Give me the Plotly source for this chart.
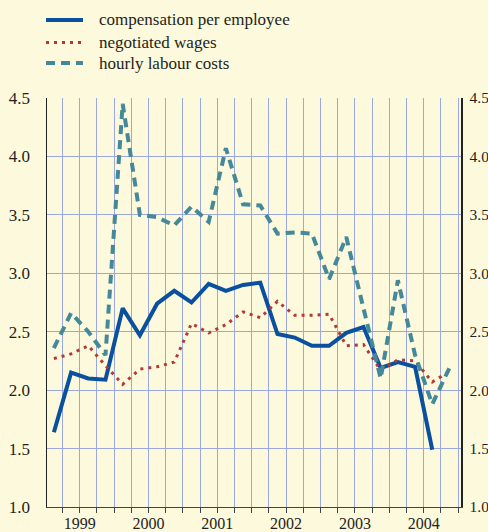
import plotly.graph_objects as go

# quarters 1999Q1 .. 2004Q4 (x = quarter index, point at mid-quarter)
quarters = ["1999Q1","1999Q2","1999Q3","1999Q4","2000Q1","2000Q2","2000Q3","2000Q4",
            "2001Q1","2001Q2","2001Q3","2001Q4","2002Q1","2002Q2","2002Q3","2002Q4",
            "2003Q1","2003Q2","2003Q3","2003Q4","2004Q1","2004Q2","2004Q3","2004Q4"]
compensation = [1.64, 2.15, 2.10, 2.09, 2.70, 2.47, 2.74, 2.85, 2.75, 2.91, 2.85, 2.90,
                2.92, 2.48, 2.45, 2.38, 2.38, 2.49, 2.54, 2.19, 2.24, 2.20, 1.49]
negotiated = [2.27, 2.31, 2.38, 2.21, 2.05, 2.18, 2.20, 2.24, 2.57, 2.49, 2.56, 2.67,
              2.62, 2.76, 2.64, 2.64, 2.65, 2.38, 2.39, 2.17, 2.26, 2.25, 2.07, 2.16]
hourly = [2.36, 2.66, 2.50, 2.30, 4.45, 3.50, 3.48, 3.41, 3.57, 3.44, 4.07, 3.59,
          3.58, 3.34, 3.35, 3.34, 2.95, 3.31, 2.70, 2.10, 2.94, 2.30, 1.88, 2.19]
year_labels = ["1999", "2000", "2001", "2002", "2003", "2004"]
year_centers = [2, 6, 10, 14, 18, 22]
series_names = ["compensation per employee", "negotiated wages", "hourly labour costs"]

xpos = [i + 0.5 for i in range(len(quarters))]

BG = "#fcf9dc"
GRID = "#9ba8de"
FONT = "Liberation Serif"
COLORS = ["#0a509f", "#b23a36", "#45889a"]
WIDTHS = [4, 3, 4]
DASHES = ["solid", "3px,5px", "9px,6px"]

W, H = 488, 532
L, R, T, B = 47, 27, 98, 25

fig = go.Figure()
series = [compensation, negotiated, hourly]
for name, ys, c, w, d in zip(series_names, series, COLORS, WIDTHS, DASHES):
    fig.add_trace(go.Scatter(x=xpos[:len(ys)], y=ys, mode="lines", name=name,
                             showlegend=False,
                             line=dict(color=c, width=w, dash=d)))

fig.add_trace(go.Scatter(x=[xpos[0]], y=[hourly[0]], yaxis="y2", mode="lines",
                         showlegend=False, hoverinfo="skip",
                         line=dict(color="rgba(0,0,0,0)")))

# legend drawn as key lines + text above the plot
pw, ph = W - L - R, H - T - B
def px2x(px):
    return (px - L) / pw
def py2y(py):
    return (H - B - py) / ph

key_rows = [20, 42.5, 63]
for name, c, w, d, row in zip(series_names, COLORS, WIDTHS, DASHES, key_rows):
    fig.add_shape(type="line", xref="paper", yref="paper",
                  x0=px2x(46), x1=px2x(83), y0=py2y(row), y1=py2y(row),
                  line=dict(color=c, width=w, dash=d))
    fig.add_annotation(xref="paper", yref="paper", x=px2x(97), y=py2y(row),
                       text=name, showarrow=False, xanchor="left", yanchor="middle",
                       font=dict(family=FONT, size=17, color="#231f20"))

fig.update_layout(
    width=W, height=H,
    paper_bgcolor=BG, plot_bgcolor=BG,
    margin=dict(l=L, r=R, t=T, b=B, autoexpand=False),
    font=dict(family=FONT, size=17, color="#231f20"),
    showlegend=False,
    xaxis=dict(range=[0.1, 24.17], tickmode="array", tickvals=year_centers,
               ticktext=year_labels, showgrid=True, gridcolor=GRID, gridwidth=1,
               ticks="outside", ticklen=5, tickcolor="#444", tickwidth=1,
               minor=dict(dtick=1, tick0=0, showgrid=True, gridcolor=GRID, gridwidth=1,
                          ticks="outside", ticklen=5, tickcolor="#444"),
               showline=True, linecolor="#444", linewidth=1, zeroline=False,
               tickfont=dict(size=16), ticklabelstandoff=-3,
               ticklabeloverflow="allow", fixedrange=True),
    yaxis=dict(range=[1.0, 4.5], dtick=0.5, tick0=1.0, tickformat=".1f",
               showgrid=True, gridcolor=GRID, gridwidth=1, zeroline=False,
               showline=True, linecolor="#222", linewidth=1.5, ticks="",
               ticklabelstandoff=12, ticklabeloverflow="allow", fixedrange=True),
    yaxis2=dict(range=[1.0, 4.5], dtick=0.5, tick0=1.0, tickformat=".1f",
                overlaying="y", side="right", showgrid=False, zeroline=False,
                showline=True, linecolor="#222", linewidth=1.5, ticks="",
                tickfont=dict(size=15.5), ticklabelstandoff=4,
                ticklabeloverflow="allow", fixedrange=True),
)

fig.write_html(
    "out.html",
    config={"displayModeBar": False, "staticPlot": True},
    post_script="document.body.style.margin='0';document.body.style.overflow='hidden';"
                "document.body.style.background='" + BG + "';",
)
